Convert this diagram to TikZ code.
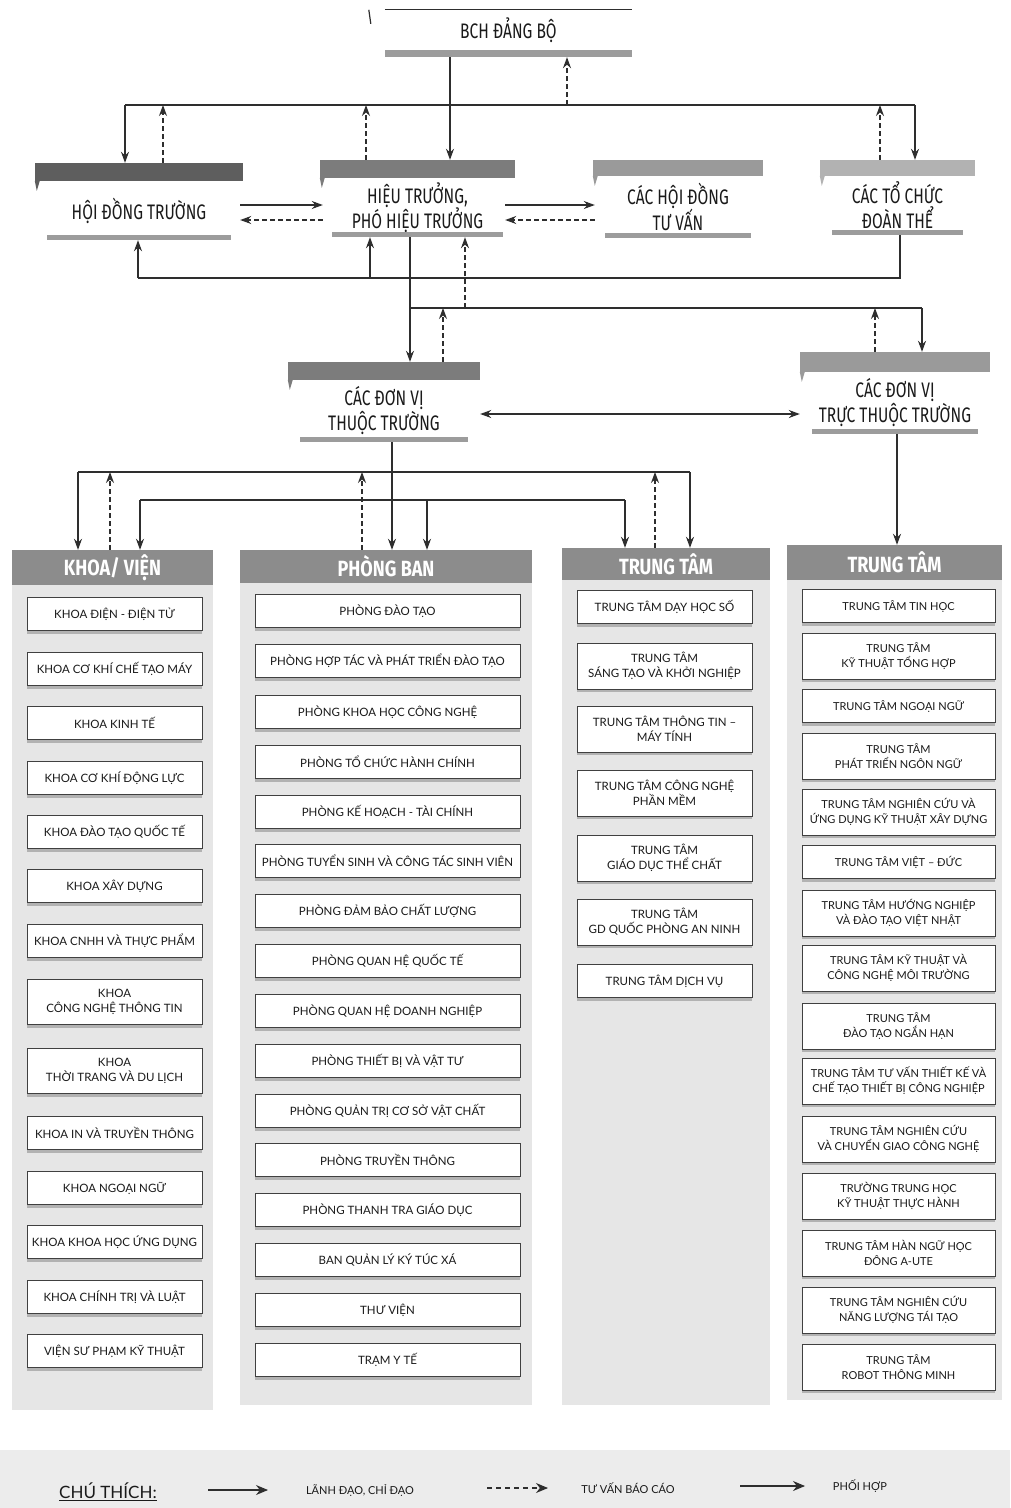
\documentclass[tikz,border=0pt]{standalone}
\usepackage{fontspec}
\setmainfont{Lato}
\newfontfamily\condfont[FakeStretch=0.74]{Fira Sans}
\newfontfamily\headfont[FakeStretch=0.82]{Fira Sans}
\usetikzlibrary{arrows.meta,shadows}
\definecolor{linec}{HTML}{2E2E2E}
\definecolor{textc}{HTML}{1A1A1A}
\definecolor{bardark}{HTML}{5E5E5E}
\definecolor{barmid}{HTML}{7C7C7C}
\definecolor{barlight}{HTML}{9A9A9A}
\definecolor{barpale}{HTML}{B2B2B2}
\definecolor{botc}{HTML}{9C9C9C}
\definecolor{headc}{HTML}{8C8C8C}
\definecolor{colbg}{HTML}{E6E6E6}
\definecolor{boxc}{HTML}{404040}
\definecolor{legbg}{HTML}{ECECEC}
\newcommand\unitbars[3]{%
  \fill[#2] ([yshift=#3pt]#1.north west) rectangle (#1.north east);
  \fill[#2] (#1.north west) -- ++(5,0) -- ++(-3,10) -- cycle;
  \fill[botc] ([xshift=12pt,yshift=5pt]#1.south west) rectangle ([xshift=-12pt]#1.south east);
}
\begin{document}
\begin{tikzpicture}[x=1pt,y=-1pt,
  ln/.style={draw=linec, line width=1.1pt},
  lead/.style={ln, -{Stealth[length=11pt,width=8pt]}},
  rep/.style={lead, dash pattern=on 5pt off 3pt},
  both/.style={ln, {Stealth[length=11pt,width=8pt]}-{Stealth[length=11pt,width=8pt]}},
  unitbox/.style={fill=white, inner sep=0pt, align=center, text=textc,
    font=\condfont\fontsize{21}{25}\selectfont},
  itembox/.style={draw=boxc, line width=0.8pt, fill=white, align=center, inner sep=1pt,
    text=textc, font=\fontsize{11.5}{15}\selectfont,
    drop shadow={shadow xshift=0pt, shadow yshift=-3pt, fill=gray!60, opacity=1}},
  headbox/.style={fill=headc, text=white, inner sep=0pt,
    font=\headfont\bfseries\fontsize{22}{22}\selectfont},
  legtext/.style={text=textc, inner sep=1pt, font=\fontsize{11}{12}\selectfont}
]
\useasboundingbox (0,0) rectangle (1010,1508);
\fill[white] (0,0) rectangle (1010,1508);

% ---------------- top level units ----------------
\node[unitbox, minimum width=247, minimum height=40] (bch) at (508.5,30) {BCH ĐẢNG BỘ};
\draw[linec, line width=1.2pt] (bch.north west) -- (bch.north east);
\draw[linec, line width=1.2pt] ([xshift=-16pt]bch.north west) -- ++(2,14);
\fill[botc] (bch.south west) rectangle ([yshift=-7pt]bch.south east);
\coordinate (bchBot) at ([yshift=-7pt]bch.south);

\node[unitbox, minimum width=208, minimum height=59] (hdt) at (139,210.5) {HỘI ĐỒNG TRƯỜNG};
\node[unitbox, minimum width=195, minimum height=59] (ht) at (417.5,207.5) {HIỆU TRƯỞNG,\\PHÓ HIỆU TRƯỞNG};
\node[unitbox, minimum width=170, minimum height=62] (hdtv) at (678,207) {CÁC HỘI ĐỒNG\\TƯ VẤN};
\node[unitbox, minimum width=155, minimum height=59] (tcdt) at (897.5,205.5) {CÁC TỔ CHỨC\\ĐOÀN THỂ};
\node[unitbox, minimum width=192, minimum height=62] (dvtt) at (384,411) {CÁC ĐƠN VỊ\\THUỘC TRƯỜNG};
\node[unitbox, minimum width=190, minimum height=62] (dvtt2) at (895,403) {CÁC ĐƠN VỊ\\TRỰC THUỘC TRƯỜNG};
\unitbars{hdt}{bardark}{18}
\unitbars{ht}{barmid}{18}
\unitbars{hdtv}{barlight}{16}
\unitbars{tcdt}{barpale}{16}
\unitbars{dvtt}{barmid}{18}
\unitbars{dvtt2}{barlight}{20}
\coordinate (hdtTop) at ([yshift=18pt]hdt.north);
\coordinate (htTop) at ([yshift=18pt]ht.north);
\coordinate (tcdtTop) at ([yshift=16pt]tcdt.north);
\coordinate (dvttTop) at ([yshift=18pt]dvtt.north);
\coordinate (dvtt2Top) at ([yshift=20pt]dvtt2.north);

% ---------------- column headers & backgrounds ----------------
\fill[colbg] (12,585) rectangle (213,1410);
\fill[colbg] (240,583) rectangle (532,1405);
\fill[colbg] (562,580) rectangle (770,1405);
\fill[colbg] (787,580) rectangle (1002,1400);
\node[headbox, minimum width=201, minimum height=35] (col1) at (112.5,567.5) {KHOA/ VIỆN};
\node[headbox, minimum width=292, minimum height=33] (col2) at (386,566.5) {PHÒNG BAN};
\node[headbox, minimum width=208, minimum height=32] (col3) at (666,564) {TRUNG TÂM};
\node[headbox, minimum width=215, minimum height=35] (col4) at (894.5,562.5) {TRUNG TÂM};

% ---------------- items ----------------
\foreach \yy/\hh/\tt [count=\i] in {
  614/33/{KHOA ĐIỆN - ĐIỆN TỬ},
  669/33/{KHOA CƠ KHÍ CHẾ TẠO MÁY},
  723/33/{KHOA KINH TẾ},
  778/33/{KHOA CƠ KHÍ ĐỘNG LỰC},
  832/33/{KHOA ĐÀO TẠO QUỐC TẾ},
  886/33/{KHOA XÂY DỰNG},
  941/33/{KHOA CNHH VÀ THỰC PHẨM},
  1002/45/{KHOA\\CÔNG NGHỆ THÔNG TIN},
  1071/45/{KHOA\\THỜI TRANG VÀ DU LỊCH},
  1133/33/{KHOA IN VÀ TRUYỀN THÔNG},
  1188/33/{KHOA NGOẠI NGỮ},
  1242/33/{KHOA KHOA HỌC ỨNG DỤNG},
  1297/33/{KHOA CHÍNH TRỊ VÀ LUẬT},
  1351/33/{VIỆN SƯ PHẠM KỸ THUẬT}}
  \node[itembox, minimum width=175, minimum height=\hh] (k\i) at (114.5,\yy) {\tt};

\foreach \yy/\tt [count=\i] in {
  611/{PHÒNG ĐÀO TẠO},
  661/{PHÒNG HỢP TÁC VÀ PHÁT TRIỂN ĐÀO TẠO},
  712/{PHÒNG KHOA HỌC CÔNG NGHỆ},
  762/{PHÒNG TỔ CHỨC HÀNH CHÍNH},
  812/{PHÒNG KẾ HOẠCH - TÀI CHÍNH},
  861/{PHÒNG TUYỂN SINH VÀ CÔNG TÁC SINH VIÊN},
  911/{PHÒNG ĐẢM BẢO CHẤT LƯỢNG},
  961/{PHÒNG QUAN HỆ QUỐC TẾ},
  1011/{PHÒNG QUAN HỆ DOANH NGHIỆP},
  1061/{PHÒNG THIẾT BỊ VÀ VẬT TƯ},
  1111/{PHÒNG QUẢN TRỊ CƠ SỞ VẬT CHẤT},
  1160/{PHÒNG TRUYỀN THÔNG},
  1210/{PHÒNG THANH TRA GIÁO DỤC},
  1260/{BAN QUẢN LÝ KÝ TÚC XÁ},
  1310/{THƯ VIỆN},
  1360/{TRẠM Y TẾ}}
  \node[itembox, minimum width=265, minimum height=33] (p\i) at (387.5,\yy) {\tt};

\foreach \yy/\hh/\tt [count=\i] in {
  607/33/{TRUNG TÂM DẠY HỌC SỐ},
  666/46/{TRUNG TÂM\\SÁNG TẠO VÀ KHỞI NGHIỆP},
  729/46/{TRUNG TÂM THÔNG TIN –\\MÁY TÍNH},
  793/46/{TRUNG TÂM CÔNG NGHỆ\\PHẦN MỀM},
  858/46/{TRUNG TÂM\\GIÁO DỤC THỂ CHẤT},
  922/46/{TRUNG TÂM\\GD QUỐC PHÒNG AN NINH},
  981/33/{TRUNG TÂM DỊCH VỤ}}
  \node[itembox, minimum width=175, minimum height=\hh] (t\i) at (664.5,\yy) {\tt};

\foreach \yy/\hh/\tt [count=\i] in {
  606/33/{TRUNG TÂM TIN HỌC},
  656/46/{TRUNG TÂM\\KỸ THUẬT TỔNG HỢP},
  706/33/{TRUNG TÂM NGOẠI NGỮ},
  756/46/{TRUNG TÂM\\PHÁT TRIỂN NGÔN NGỮ},
  812/46/{TRUNG TÂM NGHIÊN CỨU VÀ\\ỨNG DỤNG KỸ THUẬT XÂY DỰNG},
  862/33/{TRUNG TÂM VIỆT – ĐỨC},
  913/46/{TRUNG TÂM HƯỚNG NGHIỆP\\VÀ ĐÀO TẠO VIỆT NHẬT},
  968/46/{TRUNG TÂM KỸ THUẬT VÀ\\CÔNG NGHỆ MÔI TRƯỜNG},
  1026/46/{TRUNG TÂM\\ĐÀO TẠO NGẮN HẠN},
  1081/46/{TRUNG TÂM TƯ VẤN THIẾT KẾ VÀ\\CHẾ TẠO THIẾT BỊ CÔNG NGHIỆP},
  1139/46/{TRUNG TÂM NGHIÊN CỨU\\VÀ CHUYỂN GIAO CÔNG NGHỆ},
  1196/46/{TRƯỜNG TRUNG HỌC\\KỸ THUẬT THỰC HÀNH},
  1253/46/{TRUNG TÂM HÀN NGỮ HỌC\\ĐÔNG A-UTE},
  1310/46/{TRUNG TÂM NGHIÊN CỨU\\NĂNG LƯỢNG TÁI TẠO},
  1367/46/{TRUNG TÂM\\ROBOT THÔNG MINH}}
  \node[itembox, minimum width=193, minimum height=\hh, font=\fontsize{11}{15}\selectfont] (r\i) at (898.5,\yy) {\tt};

% ---------------- connectors: level 1 ----------------
\coordinate (aL) at (125,105);
\coordinate (aR) at (915,105);
\coordinate (aM) at (450,105);
\draw[ln] (aL) -- (aR);
\draw[lead] (bchBot -| aM) -- (htTop -| aM);
\draw[lead] (aL) -- (hdtTop -| aL);
\draw[lead] (aR) -- (tcdtTop -| aR);
\coordinate (r1) at (567,105);
\coordinate (r2) at (163,105);
\coordinate (r3) at (366,105);
\coordinate (r4) at (880,105);
\draw[rep] (r1) -- (bchBot -| r1);
\draw[rep] (hdtTop -| r2) -- (r2);
\draw[rep] (htTop -| r3) -- (r3);
\draw[rep] (tcdtTop -| r4) -- (r4);

\coordinate (ya) at (0,205);
\coordinate (yb) at (0,220);
\draw[lead] ([xshift=-3pt]ya -| hdt.east) -- ([xshift=3pt]ya -| ht.west);
\draw[rep] ([xshift=3pt]yb -| ht.west) -- ([xshift=-3pt]yb -| hdt.east);
\draw[lead] ([xshift=-10pt]ya -| ht.east) -- ([xshift=2pt]ya -| hdtv.west);
\draw[rep] ([xshift=2pt]yb -| hdtv.west) -- ([xshift=-10pt]yb -| ht.east);

% coordination from đoàn thể
\coordinate (bL) at (138,278);
\coordinate (bR) at (900,278);
\coordinate (b2) at (370,278);
\draw[ln] (tcdt.south -| bR) -- (bR) -- (bL);
\draw[lead] (bL) -- (hdt.south -| bL);
\draw[lead] (b2) -- (ht.south -| b2);

% ---------------- level 2 ----------------
\coordinate (cL) at (410,308);
\coordinate (cR) at (922,308);
\coordinate (d1) at (465,308);
\coordinate (d2) at (875,308);
\coordinate (d3) at (443,308);
\draw[lead] (ht.south -| cL) -- (dvttTop -| cL);
\draw[ln] (cL) -- (cR);
\draw[lead] (cR) -- (dvtt2Top -| cR);
\draw[rep] (d1) -- (ht.south -| d1);
\draw[rep] (dvtt2Top -| d2) -- (d2);
\draw[rep] (dvttTop -| d3) -- (d3);
\coordinate (ym) at (0,414);
\draw[both] (ym -| dvtt.east) -- (ym -| dvtt2.west);

% ---------------- level 3 ----------------
\coordinate (eL) at (78,472);
\coordinate (eR) at (690,472);
\coordinate (eM) at (392,472);
\draw[lead] (dvtt.south -| eM) -- (col2.north -| eM);
\draw[ln] (eL) -- (eR);
\draw[lead] (eL) -- (col1.north -| eL);
\draw[lead] (eR) -- (col3.north -| eR);
\coordinate (f1) at (110,472);
\coordinate (f2) at (362,472);
\coordinate (f3) at (655,472);
\draw[rep] (col1.north -| f1) -- (f1);
\draw[rep] (col2.north -| f2) -- (f2);
\draw[rep] (col3.north -| f3) -- (f3);
\coordinate (gL) at (140,500);
\coordinate (gR) at (625,500);
\coordinate (gM) at (427,500);
\draw[ln] (gL) -- (gR);
\draw[lead] (gL) -- (col1.north -| gL);
\draw[lead] (gM) -- (col2.north -| gM);
\draw[lead] (gR) -- (col3.north -| gR);
\coordinate (hx) at (897,0);
\draw[lead] (dvtt2.south -| hx) -- (col4.north -| hx);

% ---------------- legend ----------------
\fill[legbg] (0,1450) rectangle (1010,1508);
\node[text=textc, inner sep=1pt, font=\fontsize{17}{18}\selectfont] (leg) at (108,1492) {\underline{CHÚ THÍCH:}};
\node[legtext] (lg1) at (360,1490) {LÃNH ĐẠO, CHỈ ĐẠO};
\node[legtext] (lg2) at (628,1488) {TƯ VẤN BÁO CÁO};
\node[legtext] (lg3) at (860,1486) {PHỐI HỢP};
\coordinate (la1) at (208,1490);
\coordinate (la2) at (268,1490);
\coordinate (lb1) at (487,1488);
\coordinate (lb2) at (548,1488);
\coordinate (lc1) at (740,1486);
\coordinate (lc2) at (805,1486);
\draw[ln, -{Stealth[length=12pt,width=10pt]}] (la1) -- (la2);
\draw[ln, dash pattern=on 5pt off 4pt, -{Stealth[length=12pt,width=10pt]}] (lb1) -- (lb2);
\draw[ln, -{Stealth[length=12pt,width=10pt]}] (lc1) -- (lc2);
\end{tikzpicture}
\end{document}
